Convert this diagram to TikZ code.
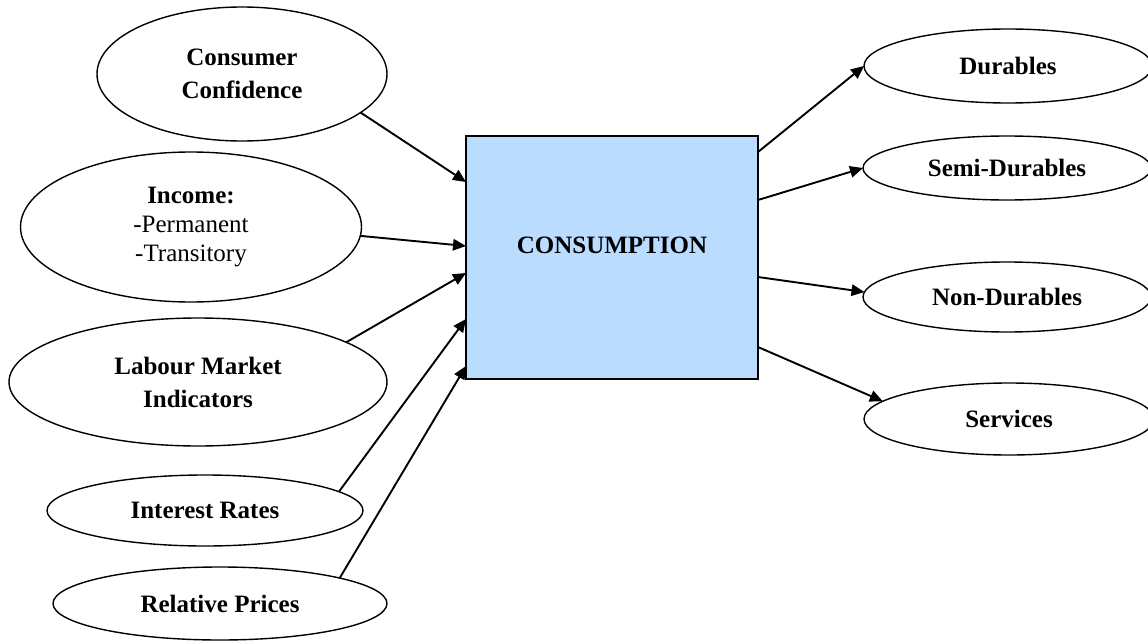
\documentclass[tikz,border=0pt]{standalone}
\usepackage{fontspec}
\setmainfont{Liberation Serif}
\usetikzlibrary{shapes.geometric,arrows.meta}
\definecolor{boxblue}{RGB}{186,220,255}

\begin{document}
\begin{tikzpicture}[x=1pt, y=-1pt, >={Triangle[length=13pt,width=11.5pt]},
		driver/.style={ellipse, draw, line width=1.4pt, inner sep=0pt, outer sep=0pt, align=center,
			font=\fontsize{25}{33}\selectfont\bfseries},
		link/.style={->, line width=1.9pt}]
		% Page frame
		\useasboundingbox (0,0) rectangle (1148,642);

		% Central box
		\node[draw, fill=boxblue, line width=1.8pt, minimum width=292pt, minimum height=243pt,
			inner sep=0pt, outer sep=0pt,
			label={[yshift=12.5pt, font=\fontsize{25}{30}\selectfont\bfseries]center:CONSUMPTION}]
			(cons) at (612,257.5) {};

		% Determinants (left side)
		\node[driver, minimum width=290pt, minimum height=134pt] (conf) at (242,74) {Consumer\\Confidence};
		\node[driver, minimum width=341pt, minimum height=150pt, font=\fontsize{25}{29}\selectfont]
			(income) at (191,227) {\textbf{Income:}\\-Permanent\\-Transitory};
		\node[driver, minimum width=378pt, minimum height=128pt] (labour) at (198,382) {Labour Market\\Indicators};
		\node[driver, minimum width=316pt, minimum height=71pt] (rates) at (205,510.5) {Interest Rates};
		\node[driver, minimum width=334pt, minimum height=73pt] (prices) at (220,603.5) {Relative Prices};

		% Components (right side)
		\node[driver, minimum width=288pt, minimum height=74pt] (dur) at (1008,66) {Durables};
		\node[driver, minimum width=288pt, minimum height=64pt] (semi) at (1007,168) {Semi-Durables};
		\node[driver, minimum width=288pt, minimum height=70pt] (nondur) at (1007,297) {Non-Durables};
		\node[driver, minimum width=290pt, minimum height=72pt] (serv) at (1009,419) {Services};

		% Macros for the arrows.
		% Usage: \feedin{node.angle}{shift}  and  \feedout{shift}{node.angle}
		\newcommand{\feedin}[2]{\draw[link] (#1) -- ([yshift=#2]cons.west);}
		\newcommand{\feedout}[2]{\draw[link] ([yshift=#1]cons.east) -- (#2);}

		\feedin{conf.-18}{75.5pt}
		\feedin{income.-3}{11.5pt}
		\feedin{labour.15}{-15.5pt}
		\feedin{rates.8.5}{-61.5pt}
		\feedin{prices.12.2}{-108.5pt}

		\feedout{105.5pt}{dur.west}
		\feedout{57.5pt}{semi.west}
		\feedout{-19.5pt}{nondur.178}
		\feedout{-89.5pt}{serv.172}
	\end{tikzpicture}
\end{document}
